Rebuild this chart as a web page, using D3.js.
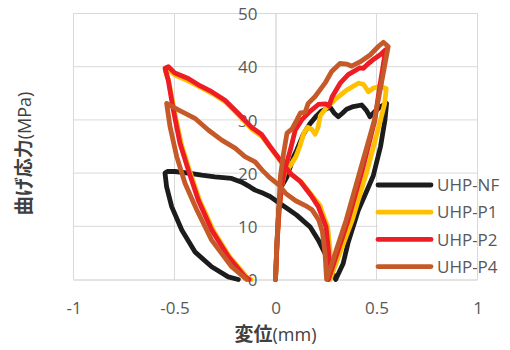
<!DOCTYPE html>
<html>
<head>
<meta charset="utf-8">
<script src="https://cdn.jsdelivr.net/npm/d3@7"></script>
<style>
  html, body { margin: 0; padding: 0; background: #fff; }
  svg { display: block; }
  .tick text { font-family: "Open Sans", "Noto Sans", sans-serif; font-size: 17px; fill: #595959; }
</style>
</head>
<body>
<svg id="chart" width="510" height="350"></svg>
<script>
// Series names and colours
const seriesNames = ["UHP-NF", "UHP-P1", "UHP-P2", "UHP-P4"];
const seriesColors = ["#1c1c1c", "#FFC000", "#EE1C25", "#C55A28"];

// Axis ticks
const xTicks = [-1, -0.5, 0, 0.5, 1];
const yTicks = [0, 10, 20, 30, 40, 50];

// UHP-NF: displacement (mm) / bending stress (MPa)
const nfX = [0, 0.007, 0.016, 0.03, 0.057, 0.09, 0.105, 0.138, 0.171, 0.204, 0.229, 0.27, 0.29, 0.311, 0.33, 0.352, 0.385, 0.427, 0.45, 0.468, 0.49, 0.52, 0.55,
  0.542, 0.52, 0.484, 0.45, 0.41, 0.36, 0.335, 0.298,
  0.28, 0.253, 0.212, 0.171, 0.105, 0.06, 0.022, -0.027, -0.06, -0.101, -0.126, -0.167, -0.217, -0.3, -0.365, -0.432, -0.498, -0.535, -0.547,
  -0.539, -0.514, -0.464, -0.399, -0.316, -0.234, -0.184];
const nfY = [0, 6.8, 13.1, 17.5, 19.3, 23.1, 24.3, 27.3, 29.3, 30.8, 31.7, 32.4, 31.3, 30.6, 31.2, 32.0, 32.5, 32.8, 31.8, 30.6, 31.5, 32.5, 33.1,
  30.0, 25.0, 19.5, 16.5, 13.0, 7.0, 3.0, 0,
  1.4, 4.3, 7.4, 9.9, 12.1, 13.3, 14.3, 15.6, 16.2, 16.8, 17.4, 18.3, 19.0, 19.3, 19.6, 20.0, 20.3, 20.3, 20.0,
  17.4, 13.7, 9.3, 5.2, 2.4, 0.5, 0];

// UHP-P1
const p1X = [0, 0.008, 0.018, 0.03, 0.045, 0.075, 0.1, 0.12, 0.14, 0.16, 0.18, 0.196, 0.21, 0.222, 0.25, 0.294, 0.352, 0.41, 0.435, 0.46, 0.485, 0.517, 0.548,
  0.54, 0.52, 0.455, 0.38, 0.27,
  0.275, 0.27, 0.258, 0.237, 0.22, 0.185, 0.13, 0.085, 0.03, -0.02, -0.065, -0.115, -0.18, -0.245, -0.31, -0.375, -0.43, -0.495, -0.53, -0.545,
  -0.527, -0.5, -0.466, -0.425, -0.375, -0.308, -0.226, -0.143, -0.12];
const p1Y = [0, 7, 13, 17.5, 20, 21.5, 23, 25, 27.5, 28.6, 28.2, 27.3, 28.5, 30.8, 32.2, 33.8, 35.6, 36.9, 36.7, 35.3, 36.0, 36.3, 35.9,
  33.0, 30.0, 20.6, 11.2, 0,
  1.5, 5.5, 9.9, 12.0, 13.9, 15.6, 18.2, 19.6, 22.0, 24.5, 26.8, 28.2, 30.8, 33.3, 34.9, 36.2, 37.3, 38.4, 39.4, 39.2,
  37.0, 31.5, 25.4, 20.4, 14.8, 9.2, 4.2, 0.5, 0];

// UHP-P2
const p2X = [0, 0.008, 0.018, 0.03, 0.045, 0.073, 0.098, 0.13, 0.171, 0.212, 0.25, 0.265, 0.28, 0.32, 0.36, 0.418, 0.435, 0.46, 0.49, 0.52, 0.545,
  0.53, 0.515, 0.492, 0.43, 0.36, 0.262,
  0.268, 0.262, 0.25, 0.229, 0.212, 0.176, 0.121, 0.077, 0.022, -0.027, -0.07, -0.118, -0.184, -0.25, -0.316, -0.382, -0.432, -0.498, -0.53, -0.547,
  -0.531, -0.506, -0.473, -0.432, -0.382, -0.316, -0.234, -0.151, -0.13];
const p2Y = [0, 7, 13, 17.5, 20.5, 24.3, 28.1, 30.0, 31.6, 32.9, 33.0, 32.6, 34.3, 36.9, 38.5, 39.8, 39.7, 40.6, 41.5, 42.3, 43.2,
  39.5, 36.0, 30.0, 20.6, 11.2, 0,
  1.5, 5.5, 9.9, 12.0, 13.7, 15.8, 18.5, 19.8, 22.5, 25.0, 27.3, 28.6, 31.2, 33.7, 35.3, 36.6, 37.8, 38.8, 40.0, 39.7,
  37.5, 31.9, 25.6, 20.6, 14.9, 9.3, 4.3, 0.5, 0];

// UHP-P4
const p4X = [0, 0.007, 0.016, 0.024, 0.04, 0.057, 0.082, 0.106, 0.123, 0.146, 0.162, 0.196, 0.245, 0.278, 0.319, 0.352, 0.377, 0.418, 0.468, 0.509, 0.534, 0.558,
  0.52, 0.49, 0.42, 0.35, 0.253,
  0.245, 0.232, 0.214, 0.181, 0.148, 0.1, 0.05, 0.016, -0.03, -0.067, -0.101, -0.151, -0.2, -0.266, -0.333, -0.399, -0.481, -0.539,
  -0.522, -0.489, -0.448, -0.39, -0.316, -0.217, -0.143];
const p4Y = [0, 6.8, 13.1, 19.3, 23.7, 27.5, 28.3, 30.0, 31.3, 31.4, 33.1, 34.4, 36.9, 39.1, 40.6, 40.5, 40.1, 40.9, 42.2, 43.8, 44.6, 43.8,
  36.0, 30.0, 20.6, 11.2, 0,
  5.0, 9.0, 11.2, 13.1, 13.9, 14.8, 16.2, 17.8, 19.2, 20.6, 22.1, 23.1, 24.7, 26.2, 28.1, 30.3, 31.9, 33.1,
  28.7, 23.1, 18.1, 13.1, 7.4, 2.4, 0];

const seriesX = [nfX, p1X, p2X, p4X];
const seriesY = [nfY, p1Y, p2Y, p4Y];

const svg = d3.select("#chart");
const x = d3.scaleLinear().domain([-1, 1]).range([73.5, 477.5]);
const y = d3.scaleLinear().domain([0, 50]).range([279.5, 13.5]);

// Gridlines
const grid = svg.append("g").attr("stroke", "#d9d9d9").attr("stroke-width", 1);
grid.selectAll("line.v").data(xTicks.filter(d => d !== 0)).join("line")
  .attr("x1", d => x(d)).attr("x2", d => x(d))
  .attr("y1", y(0)).attr("y2", y(50));
grid.selectAll("line.h").data(yTicks.filter(d => d !== 0)).join("line")
  .attr("x1", x(-1)).attr("x2", x(1))
  .attr("y1", d => y(d)).attr("y2", d => y(d));

// Axes: y axis crosses at x = 0, x axis along y = 0
const plainNum = d => String(d);
const xAxis = svg.append("g").attr("transform", `translate(0,${y(0)})`)
  .call(d3.axisBottom(x).tickValues(xTicks).tickSize(0).tickPadding(22).tickFormat(plainNum));
const yAxis = svg.append("g").attr("transform", `translate(${x(0)},0)`)
  .call(d3.axisLeft(y).tickValues(yTicks).tickSize(0).tickPadding(18).tickFormat(plainNum));
[xAxis, yAxis].forEach(a => a.select(".domain").attr("stroke", "#c8c8c8").attr("stroke-width", 1));
xAxis.select(".domain").attr("d", `M${x(-1)},0.5H${x(1)}`);
yAxis.select(".domain").attr("d", `M0.5,${y(0)}V${y(50)}`);
yAxis.selectAll(".tick text").attr("dy", "0.36em");

// Data lines
const line = d3.line().x(d => x(d[0])).y(d => y(d[1]));
seriesNames.forEach((name, i) => {
  const pts = seriesX[i].map((v, j) => [v, seriesY[i][j]]);
  svg.append("path")
    .datum(pts)
    .attr("d", line)
    .attr("fill", "none")
    .attr("stroke", seriesColors[i])
    .attr("stroke-width", 4.8)
    .attr("stroke-linejoin", "round")
    .attr("stroke-linecap", "round");
});

// Legend
const legend = svg.append("g");
legend.append("rect").attr("x", 378).attr("y", 176).attr("width", 98.5).attr("height", 101).attr("fill", "#fff");
seriesNames.forEach((name, i) => {
  const cy = 185 + i * 27.2;
  legend.append("line").attr("x1", 378).attr("x2", 431).attr("y1", cy).attr("y2", cy)
    .attr("stroke", seriesColors[i]).attr("stroke-width", 4.8).attr("stroke-linecap", "round");
  legend.append("text").attr("x", 437).attr("y", cy).attr("dy", "0.36em")
    .attr("font-family", "'Open Sans', 'Noto Sans', sans-serif").attr("font-size", 17)
    .attr("fill", "#595959").text(name);
});
// right plot border drawn over the legend box
svg.append("line").attr("x1", x(1)).attr("x2", x(1)).attr("y1", 176).attr("y2", y(0))
  .attr("stroke", "#d9d9d9");

// Axis titles
const xt = svg.append("text").attr("x", x(0)).attr("y", 341).attr("text-anchor", "middle").attr("fill", "#404040");
xt.append("tspan").attr("font-family", "'Noto Sans CJK JP'").attr("font-weight", 700).attr("font-size", 19).text("変位");
xt.append("tspan").attr("font-family", "'Open Sans'").attr("font-size", 18).text("(mm)");

const yt = svg.append("text").attr("transform", "translate(31,153.5) rotate(-90)").attr("text-anchor", "middle").attr("fill", "#404040");
yt.append("tspan").attr("font-family", "'Noto Sans CJK JP'").attr("font-weight", 700).attr("font-size", 19).text("曲げ応力");
yt.append("tspan").attr("font-family", "'Open Sans'").attr("font-size", 18).text("(MPa)");
</script>
</body>
</html>
